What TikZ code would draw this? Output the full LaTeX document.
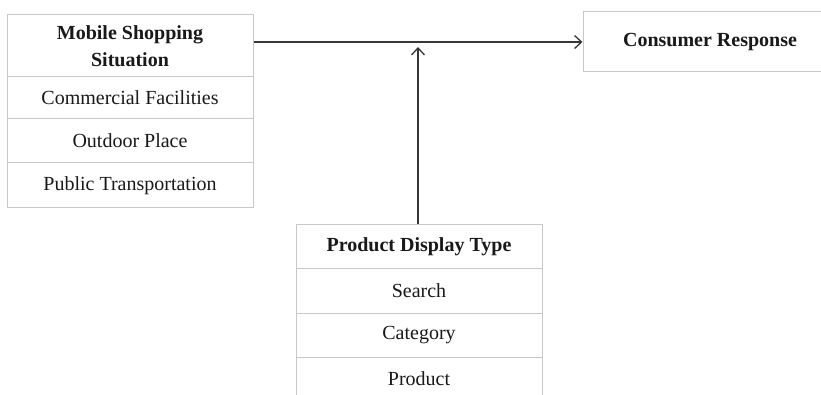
\documentclass[tikz,border=0pt]{standalone}
\usepackage{fontspec}
\setmainfont{Liberation Serif}
\usetikzlibrary{arrows.meta}
\definecolor{boxline}{RGB}{200,200,200}
\definecolor{arrline}{RGB}{55,55,55}
\tikzset{
  cell/.style={draw=boxline, line width=1pt, rectangle, inner sep=0pt, align=center,
    font=\fontsize{20}{26}\selectfont, text=black!90},
  head/.style={cell, font=\fontsize{20}{27}\selectfont\bfseries},
  arr/.style={draw=arrline, line width=1.4pt, -{Straight Barb[length=7pt,width=13pt,line width=1.3pt]}}
}
\begin{document}
\begin{tikzpicture}[x=1pt,y=-1pt]
\clip (0,0) rectangle (821,395);
\fill[white] (0,0) rectangle (821,395);
% left table
\node[head, minimum width=246pt, minimum height=62pt] (lh) at (130,46) {Mobile Shopping\\Situation};
\node[cell, minimum width=246pt, minimum height=42pt] (l1) at (130,98) {Commercial Facilities};
\node[cell, minimum width=246pt, minimum height=44pt] (l2) at (130,141) {Outdoor Place};
\node[cell, minimum width=246pt, minimum height=45pt] (l3) at (130,185.5) {Public Transportation};
% consumer response
\node[head, minimum width=254pt, minimum height=60pt] (cr) at (710,42) {Consumer Response};
% bottom table
\node[head, minimum width=246pt, minimum height=43pt] (bh) at (419,246.5) {Product Display Type};
\node[cell, minimum width=246pt, minimum height=45pt] (b1) at (419,290.5) {Search};
\node[cell, minimum width=246pt, minimum height=44pt] (b2) at (419,335) {Category};
\node[cell, minimum width=246pt, minimum height=44pt] (b3) at (419,379) {Product};
% arrows
\coordinate (j) at (418,47);
\draw[arr] (lh.east |- cr.west) -- (cr.west);
\draw[arr] (bh.north -| j) -- (j);
\end{tikzpicture}
\end{document}
